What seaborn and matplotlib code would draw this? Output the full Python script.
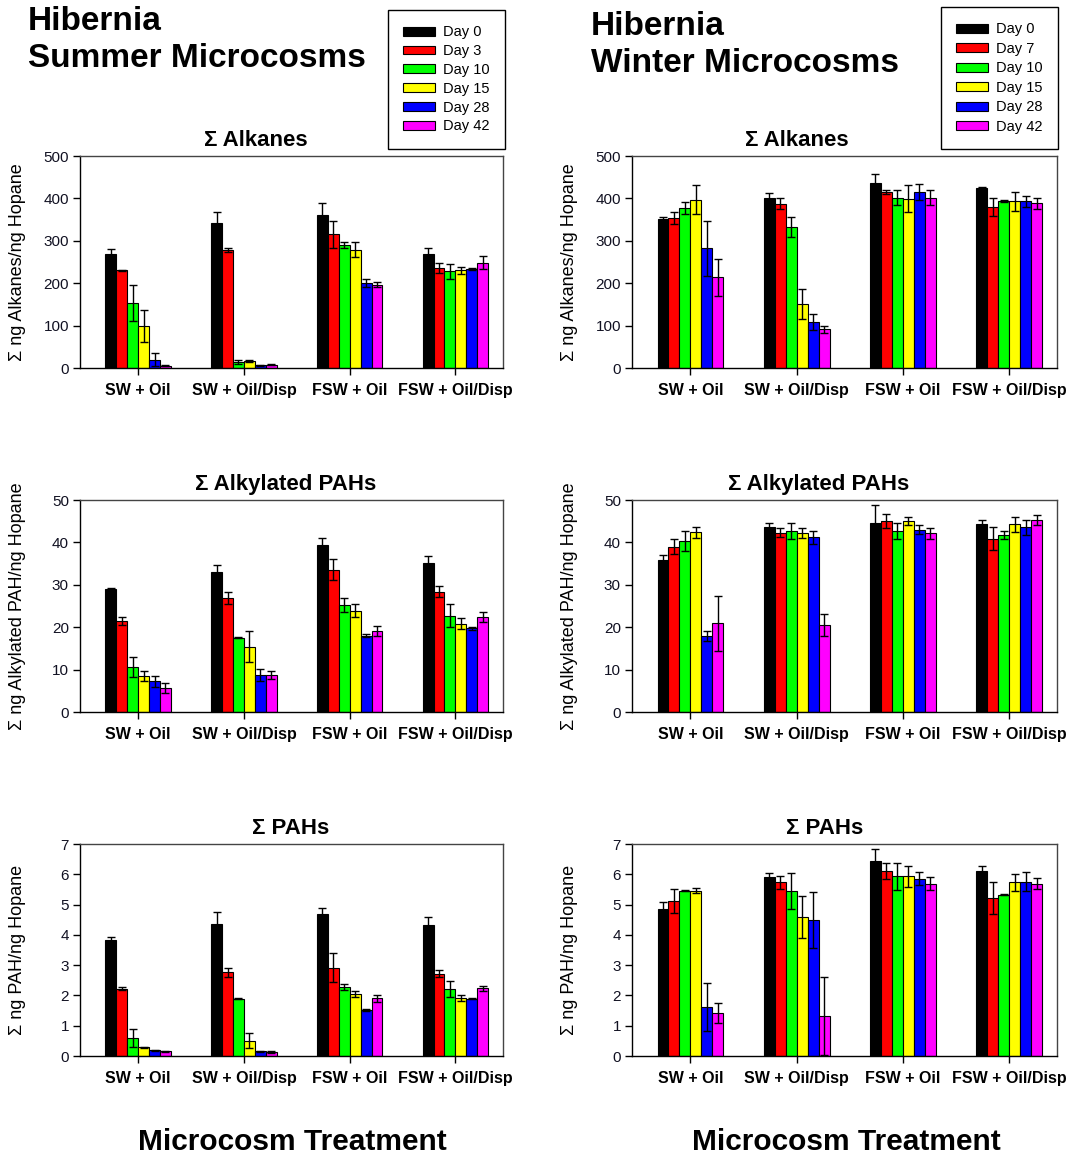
import numpy as np
import pandas as pd
import matplotlib
matplotlib.use("Agg")
import matplotlib.pyplot as plt
import seaborn as sns

treatments = ["SW + Oil", "SW + Oil/Disp", "FSW + Oil", "FSW + Oil/Disp"]
summer_days = ["Day 0", "Day 3", "Day 10", "Day 15", "Day 28", "Day 42"]
winter_days = ["Day 0", "Day 7", "Day 10", "Day 15", "Day 28", "Day 42"]
day_colors = ["#000000", "#FF0000", "#00FF00", "#FFFF00", "#0000FF", "#FF00FF"]

# rows = treatments, columns = days
summer_alkanes = [[270, 230, 154, 99, 20, 5],
                  [343, 279, 15, 16, 6, 8],
                  [360, 315, 290, 279, 201, 196],
                  [270, 236, 228, 230, 233, 248]]
summer_alkanes_err = [[11, 2, 42, 37, 16, 1],
                      [24, 5, 5, 3, 1, 1],
                      [28, 31, 6, 17, 10, 6],
                      [14, 12, 17, 9, 3, 15]]
winter_alkanes = [[352, 353, 378, 397, 282, 214],
                  [402, 387, 333, 151, 108, 91],
                  [436, 415, 402, 399, 415, 402],
                  [425, 380, 394, 393, 393, 388]]
winter_alkanes_err = [[4, 14, 14, 34, 64, 44],
                      [10, 13, 24, 36, 19, 9],
                      [21, 5, 18, 32, 19, 18],
                      [1, 22, 3, 22, 13, 14]]
summer_alkyl = [[29.0, 21.5, 10.6, 8.4, 7.2, 5.7],
                [33.0, 26.9, 17.5, 15.4, 8.7, 8.7],
                [39.5, 33.6, 25.3, 23.9, 18.0, 19.1],
                [35.1, 28.4, 22.7, 20.8, 19.7, 22.4]]
summer_alkyl_err = [[0.2, 0.9, 2.4, 1.2, 1.2, 1.2],
                    [1.7, 1.5, 0.1, 3.7, 1.5, 0.9],
                    [1.6, 2.4, 1.6, 1.5, 0.4, 1.1],
                    [1.8, 1.3, 2.7, 1.3, 0.3, 1.1]]
winter_alkyl = [[35.9, 39.0, 40.3, 42.4, 17.9, 20.9],
                [43.7, 42.3, 42.7, 42.2, 41.2, 20.5],
                [44.6, 45.1, 42.7, 45.1, 43.0, 42.1],
                [44.3, 40.9, 41.7, 44.3, 43.6, 45.2]]
winter_alkyl_err = [[1.1, 1.7, 2.4, 1.3, 1.1, 6.4],
                    [0.8, 1.0, 1.8, 1.2, 1.5, 2.5],
                    [4.2, 1.6, 1.8, 1.0, 1.0, 1.2],
                    [1.1, 2.7, 1.0, 1.8, 1.8, 1.2]]
summer_pahs = [[3.82, 2.22, 0.60, 0.29, 0.19, 0.15],
               [4.37, 2.76, 1.89, 0.51, 0.15, 0.13],
               [4.70, 2.92, 2.28, 2.06, 1.53, 1.90],
               [4.33, 2.72, 2.21, 1.92, 1.89, 2.24]]
summer_pahs_err = [[0.12, 0.05, 0.30, 0.02, 0.01, 0.01],
                   [0.38, 0.16, 0.02, 0.25, 0.01, 0.02],
                   [0.18, 0.48, 0.09, 0.10, 0.03, 0.13],
                   [0.26, 0.12, 0.25, 0.11, 0.02, 0.08]]
winter_pahs = [[4.85, 5.13, 5.46, 5.46, 1.62, 1.41],
               [5.90, 5.73, 5.44, 4.59, 4.49, 1.32],
               [6.43, 6.11, 5.93, 5.93, 5.86, 5.69],
               [6.12, 5.22, 5.33, 5.73, 5.76, 5.69]]
winter_pahs_err = [[0.25, 0.40, 0.02, 0.08, 0.80, 0.33],
                   [0.13, 0.21, 0.59, 0.68, 0.94, 1.30],
                   [0.41, 0.26, 0.44, 0.35, 0.22, 0.21],
                   [0.16, 0.52, 0.02, 0.27, 0.32, 0.18]]

sns.set_style("ticks")
plt.rcParams["font.family"] = ["Liberation Sans", "DejaVu Sans"]
plt.rcParams["text.color"] = "black"
plt.rcParams["axes.labelcolor"] = "black"
plt.rcParams["xtick.color"] = "black"
plt.rcParams["ytick.color"] = "black"

W, H = 1067, 1163
fig = plt.figure(figsize=(W / 100, H / 100), dpi=100)


def rect(x0, x1, y0, y1):
    return [x0 / W, 1 - y1 / H, (x1 - x0) / W, (y1 - y0) / H]


def draw_panel(ax, values, errors, days, ymax, ystep, ylabel, title, title_x):
    rows = []
    for i, t in enumerate(treatments):
        for j, d in enumerate(days):
            rows.append({"treatment": t, "day": d, "value": values[i][j]})
    df = pd.DataFrame(rows)
    sns.barplot(data=df, x="treatment", y="value", hue="day",
                order=treatments, hue_order=days, palette=day_colors,
                width=0.62, gap=0, errorbar=None, saturation=1,
                edgecolor="black", linewidth=0.8, ax=ax)
    bar_groups = list(ax.containers)
    for j, cont in enumerate(bar_groups):
        for i, bar in enumerate(cont):
            ax.errorbar(bar.get_x() + bar.get_width() / 2, bar.get_height(),
                        yerr=errors[i][j], fmt="none", ecolor="black",
                        elinewidth=1.0, capsize=3, capthick=1.0, zorder=5)
    leg = ax.get_legend()
    handles = list(leg.legend_handles)
    labels = [t.get_text() for t in leg.get_texts()]
    leg.remove()
    ax.set_xlim(-0.55, 3.45)
    ax.set_ylim(0, ymax)
    ax.set_yticks(np.arange(0, ymax + ystep / 2, ystep))
    ax.set_xlabel("")
    ax.set_ylabel(ylabel, fontsize=13, va="center", color="black")
    ax.yaxis.set_label_coords(-0.147, 0.5)
    ax.tick_params(axis="y", labelsize=11, length=5, width=1, direction="out",
                   pad=3, labelcolor="#111122", color="black")
    ax.tick_params(axis="x", labelsize=11.5, length=5, width=1, direction="out",
                   pad=6, labelcolor="black", color="black")
    for lab in ax.get_xticklabels():
        lab.set_fontweight("bold")
    for s in ["left", "bottom"]:
        ax.spines[s].set_color("black")
        ax.spines[s].set_linewidth(1.0)
    for s in ["top", "right"]:
        ax.spines[s].set_color("#444444")
        ax.spines[s].set_linewidth(1.0)
    ax.text(title_x, 1.071, title, transform=ax.transAxes, ha="center",
            va="center", fontsize=16, fontweight="bold", color="black")
    return handles, labels


lx = (80, 503)
rx = (632, 1057)
rows_y = [(156, 368), (500, 712), (844, 1056)]

panels = [
    (lx, rows_y[0], summer_alkanes, summer_alkanes_err, summer_days, 500, 100,
     "Σ ng Alkanes/ng Hopane", "Σ Alkanes", 0.416),
    (lx, rows_y[1], summer_alkyl, summer_alkyl_err, summer_days, 50, 10,
     "Σ ng Alkylated PAH/ng Hopane", "Σ Alkylated PAHs", 0.485),
    (lx, rows_y[2], summer_pahs, summer_pahs_err, summer_days, 7, 1,
     "Σ ng PAH/ng Hopane", "Σ PAHs", 0.499),
    (rx, rows_y[0], winter_alkanes, winter_alkanes_err, winter_days, 500, 100,
     "Σ ng Alkanes/ng Hopane", "Σ Alkanes", 0.388),
    (rx, rows_y[1], winter_alkyl, winter_alkyl_err, winter_days, 50, 10,
     "Σ ng Alkylated PAH/ng Hopane", "Σ Alkylated PAHs", 0.438),
    (rx, rows_y[2], winter_pahs, winter_pahs_err, winter_days, 7, 1,
     "Σ ng PAH/ng Hopane", "Σ PAHs", 0.454),
]

legend_data = {}
for k, (xr, yr, vals, errs, days, ymax, ystep, ylab, title, tx) in enumerate(panels):
    ax = fig.add_axes(rect(xr[0], xr[1], yr[0], yr[1]))
    h, l = draw_panel(ax, vals, errs, days, ymax, ystep, ylab, title, tx)
    legend_data[k] = (h, l)

# legends
for k, (x0, y0, lsp) in [(0, (388, 10, 0.33)), (3, (941, 7, 0.38))]:
    pass

for k, x0, y0, lsp in [(0, 388, 10, 0.33), (3, 941, 7, 0.38)]:
    h, l = legend_data[k]
    lg = fig.legend(h, l, loc="upper left",
                    bbox_to_anchor=(x0 / W, 1 - y0 / H),
                    fontsize=10.5, handlelength=2.2, handleheight=0.55,
                    handletextpad=0.55, labelspacing=lsp, borderpad=1.05,
                    borderaxespad=0, fancybox=False, frameon=True)
    lg.get_frame().set_edgecolor("black")
    lg.get_frame().set_linewidth(1.0)
    lg.get_frame().set_alpha(1)
    for t in lg.get_texts():
        t.set_color("black")

# headings
fig.text(28 / W, 1 - 6 / H, "Hibernia\nSummer Microcosms", ha="left", va="top",
         fontsize=24, fontweight="bold", linespacing=1.25, color="black")
fig.text(591 / W, 1 - 11 / H, "Hibernia\nWinter Microcosms", ha="left", va="top",
         fontsize=24, fontweight="bold", linespacing=1.25, color="black")
fig.text(292 / W, 1 - 1142 / H, "Microcosm Treatment", ha="center", va="center",
         fontsize=21.5, fontweight="bold", color="black")
fig.text(846 / W, 1 - 1142 / H, "Microcosm Treatment", ha="center", va="center",
         fontsize=21.5, fontweight="bold", color="black")

fig.savefig("out.png", dpi=100)
